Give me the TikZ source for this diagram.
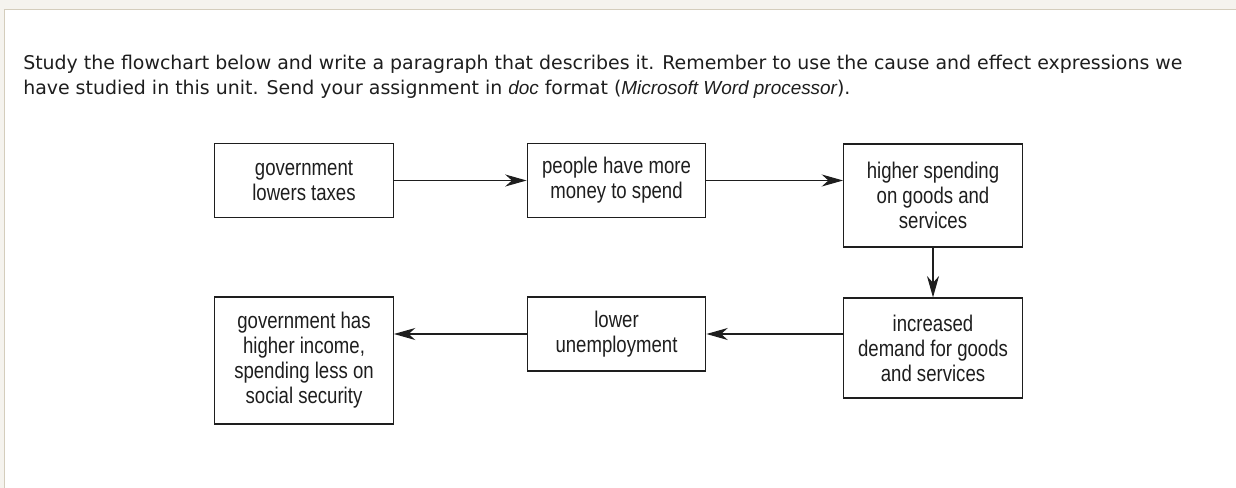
\documentclass[tikz,border=0pt]{standalone}
\usepackage{fontspec}
\setmainfont{Liberation Sans}
\newfontfamily\boxfont[FakeStretch=0.82]{Liberation Sans}
\newfontfamily\introfont{DejaVu Sans}
\newfontfamily\introitfont{Liberation Sans}
\newcommand{\introit}[1]{{\introitfont\itshape #1}}
\usepackage{tikz}
\usetikzlibrary{arrows.meta,positioning}
\usepackage{xcolor}
\definecolor{framecol}{RGB}{245,243,238}
\definecolor{edgecol}{RGB}{212,205,188}
\definecolor{inkcol}{RGB}{30,30,30}
\tikzset{
  % flowchart box
  flowbox/.style={rectangle, draw=inkcol, line width=0.9pt, fill=white,
                  minimum width=134pt, minimum height=#1, inner sep=0pt,
                  align=center, text=inkcol, font=\boxfont\fontsize{17}{18.75}\selectfont},
  flowbox/.default={56pt},
  % instruction text
  introtext/.style={anchor=base west, inner sep=0pt, text=inkcol,
                    font=\introfont\fontsize{14.2}{18.75}\selectfont},
  % flow arrow
  flowarrow/.style={-{Stealth[length=16pt,width=9pt,inset=5pt]}, line width=0.85pt, draw=inkcol},
  % window frame line
  frameline/.style={draw=edgecol, line width=1.2pt},
}
\begin{document}
\begin{tikzpicture}[x=0.75pt, y=-0.75pt]

  % ── Window frame ──
  \useasboundingbox (0,0) rectangle (1236,488);
  \fill[framecol] (0,0) rectangle (1236,488);
  \fill[white] (5,10) rectangle (1236,488);
  \draw[frameline] (4,9.5) -- (1236,9.5);
  \draw[frameline] (4.5,9.5) -- (4.5,488);

  % ── Instructions ──
  \node[introtext] (intro1) at (23,70)
    {Study the flowchart below and write a paragraph that describes it. Remember to use the cause and effect expressions we};
  \node[introtext] (intro2) at (23,95)
    {have studied in this unit. Send your assignment in \introit{doc} format (\introit{Microsoft Word processor}).};

  % ── Top row ──
  \node[flowbox] (taxes) at (304,180.5) {government\\lowers taxes};
  \node[flowbox] (money) at (616.5,180.5) {people have more\\money to spend};
  \node[flowbox=77.25pt] (spending) at (933,195.5) {higher spending\\on goods and\\services};

  % ── Bottom row ──
  \node[flowbox=75pt] (demand) at (933,348) {increased\\demand for goods\\and services};
  \node[flowbox=55.5pt] (unemp) at (616.5,334) {lower\\unemployment};
  \node[flowbox=95.25pt] (income) at (304,360.5) {government has\\higher income,\\spending less on\\social security};

  % ── Arrows ──
  \draw[flowarrow] (taxes.east) -- (money.west);
  \draw[flowarrow] (money.east) -- (money.east -| spending.west);
  \draw[flowarrow] (spending.south) -- (demand.north);
  \draw[flowarrow] (unemp.east -| demand.west) -- (unemp.east);
  \draw[flowarrow] (unemp.west) -- (unemp.west -| income.east);

\end{tikzpicture}
\end{document}
